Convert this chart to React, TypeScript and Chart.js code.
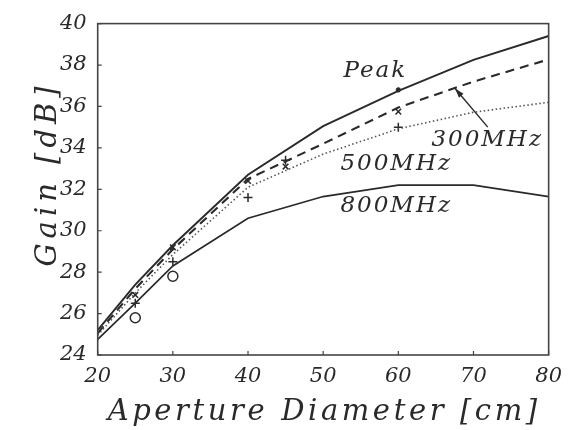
import React, { useEffect, useRef } from "react";
import { Chart, registerables } from "chart.js";

Chart.register(...registerables);

// ---- data ----
const diameters = [20, 25, 30, 40, 50, 60, 70, 80];
const peakGain = [25.2, 27.4, 29.3, 32.7, 35.05, 36.75, 38.25, 39.4];
const gain300 = [25.05, 27.2, 29.1, 32.5, 34.2, 35.95, 37.2, 38.27];
const gain500 = [24.95, 27.0, 28.85, 32.1, 33.7, 34.92, 35.72, 36.2];
const gain800 = [24.75, 26.5, 28.3, 30.6, 31.65, 32.2, 32.2, 31.65];

const measDiameters = [25, 30, 40, 45, 60];
const meas300 = [26.9, 29.2, 32.4, 33.1, 35.75];
const meas500 = [26.5, 28.5, 31.6, 33.4, 35.0];
const meas800Diameters = [25, 30];
const meas800 = [25.8, 27.8];
const peakMarkDiameters = [60];
const peakMark = [36.8];

const xTicks = [20, 30, 40, 50, 60, 70, 80];
const yTicks = [24, 26, 28, 30, 32, 34, 36, 38, 40];

const curveLabels = ["Peak", "300MHz", "500MHz", "800MHz"];
const xTitle = "Aperture Diameter [cm]";
const yTitle = "Gain [dB]";

const INK = "#2a2a2a";
const FONT = "'DejaVu Serif', serif";

const pts = (xs: number[], ys: number[]) => xs.map((x, i) => ({ x, y: ys[i] }));

export default function App() {
  const ref = useRef<HTMLCanvasElement | null>(null);

  useEffect(() => {
    if (!ref.current) return;

    // annotation anchors in data coordinates
    const labelAnchors: [number, number][] = [
      [52.7, 37.73],
      [64.4, 34.38],
      [52.3, 33.23],
      [52.3, 31.17],
    ];

    const decor = {
      id: "decor",
      afterDraw(chart: any) {
        const { ctx, chartArea, scales } = chart;
        const xs = scales.x;
        const ys = scales.y;
        ctx.save();
        // frame
        ctx.strokeStyle = "#444";
        ctx.lineWidth = 1.6;
        ctx.strokeRect(chartArea.left, chartArea.top, chartArea.right - chartArea.left, chartArea.bottom - chartArea.top);
        // inward ticks
        ctx.lineWidth = 1.2;
        ctx.beginPath();
        xTicks.forEach((t) => {
          const px = xs.getPixelForValue(t);
          ctx.moveTo(px, chartArea.bottom);
          ctx.lineTo(px, chartArea.bottom - 4);
        });
        yTicks.forEach((t) => {
          const py = ys.getPixelForValue(t);
          ctx.moveTo(chartArea.left, py);
          ctx.lineTo(chartArea.left + 4, py);
        });
        ctx.stroke();

        // curve labels
        ctx.fillStyle = INK;
        ctx.font = `italic 23px ${FONT}`;
        (ctx as any).letterSpacing = "2px";
        ctx.textAlign = "left";
        ctx.textBaseline = "middle";
        curveLabels.forEach((t, i) => {
          const [dx, dy] = labelAnchors[i];
          ctx.fillText(t, xs.getPixelForValue(dx), ys.getPixelForValue(dy));
        });

        // arrow 300MHz
        const ax0 = xs.getPixelForValue(71.9);
        const ay0 = ys.getPixelForValue(35.0);
        const ax1 = xs.getPixelForValue(67.55);
        const ay1 = ys.getPixelForValue(36.87);
        ctx.strokeStyle = INK;
        ctx.lineWidth = 1.4;
        ctx.beginPath();
        ctx.moveTo(ax0, ay0);
        ctx.lineTo(ax1, ay1);
        ctx.stroke();
        const ang = Math.atan2(ay1 - ay0, ax1 - ax0);
        const hl = 10;
        ctx.beginPath();
        ctx.moveTo(ax1, ay1);
        ctx.lineTo(ax1 - hl * Math.cos(ang - 0.3), ay1 - hl * Math.sin(ang - 0.3));
        ctx.lineTo(ax1 - hl * Math.cos(ang + 0.3), ay1 - hl * Math.sin(ang + 0.3));
        ctx.closePath();
        ctx.fillStyle = INK;
        ctx.fill();

        // axis titles
        ctx.fillStyle = INK;
        ctx.font = `italic 29px ${FONT}`;
        (ctx as any).letterSpacing = "3.6px";
        ctx.textAlign = "center";
        ctx.textBaseline = "alphabetic";
        ctx.fillText(xTitle, (chartArea.left + chartArea.right) / 2 + 1, 420);

        (ctx as any).letterSpacing = "5px";
        ctx.translate(56, 174);
        ctx.rotate(-Math.PI / 2);
        ctx.fillText(yTitle, 0, 0);
        ctx.restore();
      },
    };

    const chart = new Chart(ref.current, {
      type: "line",
      data: {
        datasets: [
          { label: "Peak", data: pts(diameters, peakGain), borderColor: INK, borderWidth: 1.9, pointRadius: 0, tension: 0 },
          { label: "300MHz", data: pts(diameters, gain300), borderColor: INK, borderWidth: 2.1, borderDash: [9, 6], pointRadius: 0, tension: 0 },
          { label: "500MHz", data: pts(diameters, gain500), borderColor: "#555", borderWidth: 1.6, borderDash: [1.5, 2.5], pointRadius: 0, tension: 0 },
          { label: "800MHz", data: pts(diameters, gain800), borderColor: INK, borderWidth: 1.7, pointRadius: 0, tension: 0 },
          { label: "meas300", data: pts(measDiameters, meas300), showLine: false, pointStyle: "crossRot", pointRadius: 4, borderColor: INK, pointBorderWidth: 1.5, borderWidth: 1.5 },
          { label: "meas500", data: pts(measDiameters, meas500), showLine: false, pointStyle: "cross", pointRadius: 4.5, borderColor: INK, pointBorderWidth: 1.5, borderWidth: 1.5 },
          { label: "meas800", data: pts(meas800Diameters, meas800), showLine: false, pointStyle: "circle", pointRadius: 5, borderColor: INK, backgroundColor: "#fff", pointBorderWidth: 1.5, borderWidth: 1.5 },
          { label: "peakMark", data: pts(peakMarkDiameters, peakMark), showLine: false, pointStyle: "circle", pointRadius: 2.2, borderColor: INK, backgroundColor: INK, pointBorderWidth: 1 },
        ],
      },
      options: {
        responsive: false,
        animation: false,
        devicePixelRatio: 1,
        layout: { padding: { top: 20.5, right: 20.4, bottom: 0, left: 0 } },
        plugins: { legend: { display: false }, tooltip: { enabled: false } },
        scales: {
          x: {
            type: "linear",
            min: 20,
            max: 80,
            afterBuildTicks: (s: any) => { s.ticks = xTicks.map((v) => ({ value: v })); },
            afterFit: (s: any) => { s.height = 75; },
            grid: { display: false, drawTicks: false },
            border: { display: false },
            ticks: { color: INK, padding: 9, font: { family: FONT, style: "italic", size: 21 } },
          },
          y: {
            type: "linear",
            min: 24,
            max: 40,
            afterBuildTicks: (s: any) => { s.ticks = yTicks.map((v) => ({ value: v })); },
            afterFit: (s: any) => { s.width = 97.7; },
            grid: { display: false, drawTicks: false },
            border: { display: false },
            ticks: { color: INK, padding: 11, font: { family: FONT, style: "italic", size: 21 } },
          },
        },
      },
      plugins: [decor],
    });
    return () => chart.destroy();
  }, []);

  return (
    <div style={{ position: "absolute", left: 0, top: 0, width: 571, height: 430, background: "#fff" }}>
      <canvas ref={ref} width={571} height={430} style={{ display: "block" }} />
    </div>
  );
}
